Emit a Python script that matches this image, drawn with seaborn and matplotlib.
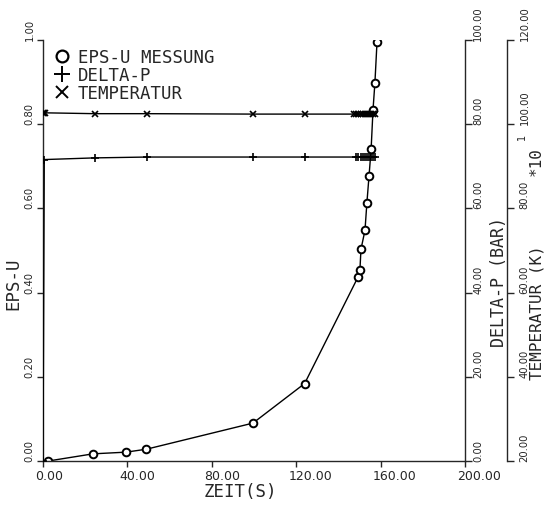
import matplotlib
matplotlib.use("Agg")
import matplotlib.pyplot as plt
import matplotlib.transforms as mtransforms
from matplotlib.lines import Line2D
import seaborn as sns

# ---------------- Data ----------------
zeit_eps = [2.5, 23.7, 39.3, 49.0, 99.5, 124.0, 149.3, 150.2, 150.7, 152.6,
            153.5, 154.5, 155.5, 156.4, 157.3, 158.3]
eps_u = [0.000, 0.017, 0.021, 0.028, 0.090, 0.184, 0.437, 0.454, 0.503, 0.548,
         0.613, 0.676, 0.740, 0.834, 0.898, 0.995]

zeit_dp = [0.0, 0.6, 24.6, 49.3, 99.5, 124.0, 148.5, 149.5, 150.5, 151.5,
           152.5, 153.5, 154.5, 155.5, 156.5, 157.5]
delta_p = [0.0, 71.6, 72.0, 72.2, 72.2, 72.2, 72.2, 72.2, 72.2, 72.2,
           72.2, 72.2, 72.2, 72.2, 72.2, 72.2]

zeit_temp = [0.0, 0.5, 1.0, 24.6, 49.3, 99.5, 124.0, 147.5, 148.5, 149.5,
             150.5, 151.5, 152.5, 153.5, 154.5, 155.5, 156.5, 157.5]
temperatur = [1027, 1027, 1027, 1025, 1025, 1024, 1024, 1024, 1024, 1024,
              1024, 1024, 1024, 1024, 1024, 1024, 1024, 1024]

x_ticks = [0, 40, 80, 120, 160, 200]
eps_ticks = [0.0, 0.2, 0.4, 0.6, 0.8, 1.0]
dp_ticks = [0, 20, 40, 60, 80, 100]
temp_ticks = [200, 400, 600, 800, 1000, 1200]

# ---------------- Style ----------------
sns.set_style("ticks")
plt.rcParams["font.family"] = ["DejaVu Sans Mono"]
plt.rcParams["axes.linewidth"] = 1.0

fig = plt.figure(figsize=(5.44, 5.06), dpi=100)
ax = fig.add_axes([43 / 544, 1 - 462 / 506, 422 / 544, 421 / 506])
ax2 = ax.twinx()
ax3 = ax.twinx()

# EPS-U
sns.lineplot(x=zeit_eps, y=eps_u, ax=ax, color="black", lw=1, sort=False,
             estimator=None, marker="o", ms=5.5, mfc="white", mec="black", mew=1.4)
# Delta-P
sns.lineplot(x=zeit_dp, y=delta_p, ax=ax2, color="black", lw=1, sort=False,
             estimator=None, marker="+", ms=6, mec="black", mew=1.2)
# Temperature
sns.lineplot(x=zeit_temp, y=temperatur, ax=ax3, color="black", lw=1, sort=False,
             estimator=None, marker="x", ms=5, mec="black", mew=1.2)

# ---------------- Axes ----------------
ax.set_xlim(0, 200)
ax.set_ylim(0, 1)
ax2.set_ylim(0, 100)
ax3.set_ylim(200, 1200)

for s in ["top", "right"]:
    ax.spines[s].set_visible(False)
for a in (ax2, ax3):
    for s in ["top", "left", "bottom"]:
        a.spines[s].set_visible(False)
ax3.spines["right"].set_position(("axes", 464 / 422))

ax.set_xticks(x_ticks)
ax.set_xticklabels([f"{v:.2f}" for v in x_ticks])
ax.set_yticks(eps_ticks)
ax.set_yticklabels([f"{v:.2f}" for v in eps_ticks])
ax2.set_yticks(dp_ticks)
ax2.set_yticklabels([f"{v:.2f}" for v in dp_ticks])
ax3.set_yticks(temp_ticks)
ax3.set_yticklabels([f"{v / 10:.2f}" for v in temp_ticks])

ax.tick_params(axis="x", direction="out", length=4, width=1, pad=2, labelsize=9,
               labelfontfamily="DejaVu Sans")
ax.tick_params(axis="y", direction="out", length=4, width=1, pad=2, labelsize=7.2,
               labelrotation=90, labelfontfamily="DejaVu Sans")
ax2.tick_params(axis="y", direction="out", length=5, width=1, pad=1, labelsize=7.2,
                labelrotation=90, labelfontfamily="DejaVu Sans")
ax3.tick_params(axis="y", direction="out", length=5, width=1, pad=4, labelsize=7.2,
                labelrotation=90, labelfontfamily="DejaVu Sans")

offset = mtransforms.ScaledTranslation(-0.08, 0, fig.dpi_scale_trans)
for lab in ax.get_xticklabels():
    lab.set_ha("left")
    lab.set_transform(lab.get_transform() + offset)
for lab in ax.get_yticklabels():
    lab.set_va("bottom")
for a in (ax2, ax3):
    for lab in a.get_yticklabels():
        lab.set_va("bottom")
        lab.set_ha("left")

ax.set_xlabel("ZEIT(S)", fontsize=12.5)
ax.xaxis.set_label_coords((240 - 43) / 422, -0.05)
ax.set_ylabel("EPS-U", fontsize=12.5)
ax.yaxis.set_label_coords(-0.05, 0.423)
ax2.set_ylabel("DELTA-P (BAR)", fontsize=12)
ax2.yaxis.set_label_coords((490 - 43) / 422, 0.428)
ax3.set_ylabel("TEMPERATUR (K)", fontsize=11.5)
ax3.yaxis.set_label_coords((530 - 43) / 422, 0.354)

ax.text((536 - 43) / 422, (462 - 162) / 421, "*10", transform=ax.transAxes,
        rotation=90, fontsize=11.5, ha="center", va="center")
ax.text((522 - 43) / 422, (462 - 137) / 421, "1", transform=ax.transAxes,
        rotation=90, fontsize=7, ha="center", va="center",
        fontfamily="DejaVu Sans")

# ---------------- Legend ----------------
handles = [
    Line2D([], [], ls="none", marker="o", ms=8.5, mfc="white", mec="black", mew=1.6),
    Line2D([], [], ls="none", marker="+", ms=11, mec="black", mew=1.4),
    Line2D([], [], ls="none", marker="x", ms=9, mec="black", mew=1.4),
]
labels = ["EPS-U MESSUNG", "DELTA-P", "TEMPERATUR"]
ax.legend(handles, labels, loc="upper left", bbox_to_anchor=(0.025, 0.982),
          frameon=False, fontsize=12.5, handlelength=1.0, handletextpad=0.4,
          labelspacing=0.0, borderpad=0, borderaxespad=0)

plt.savefig("out.png", dpi=100)
